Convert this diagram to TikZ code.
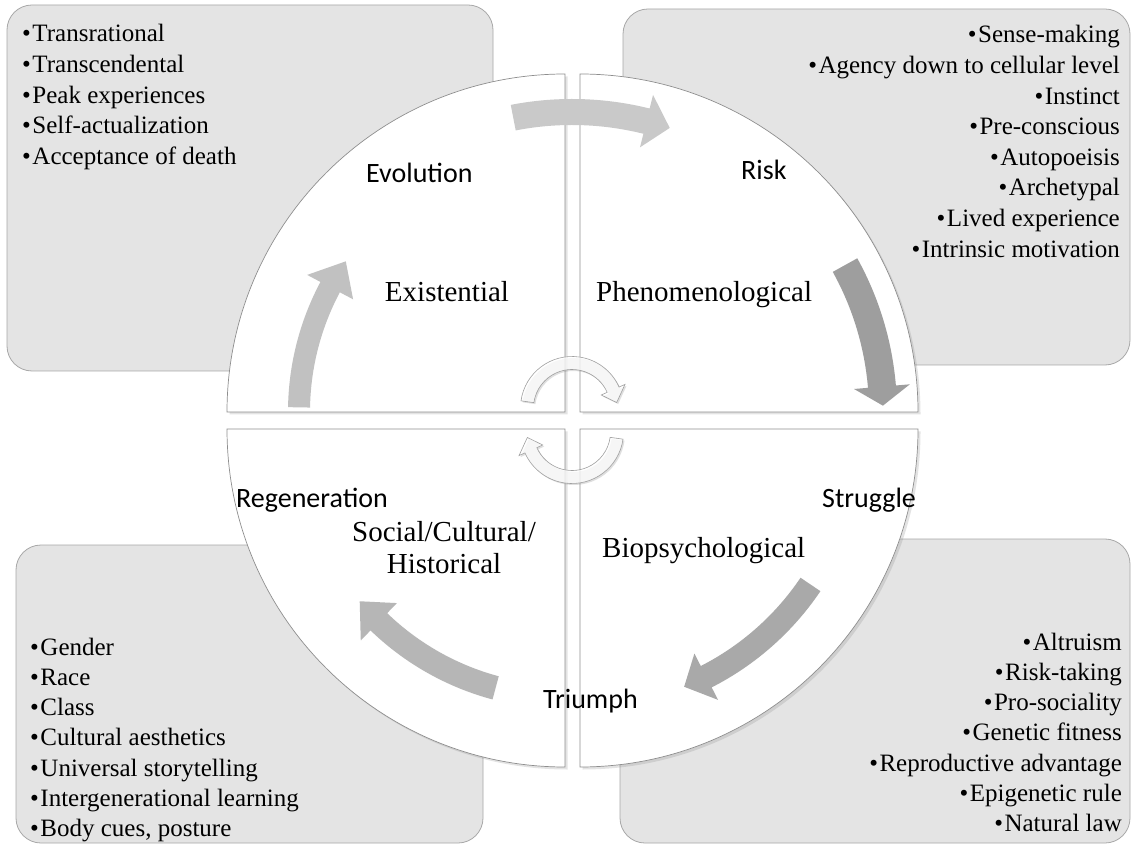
\documentclass[tikz,border=0pt]{standalone}
\usepackage{fontspec}
\setmainfont{Liberation Serif}
\newfontfamily\lblfont{Carlito}
\usetikzlibrary{calc,shadows}
\definecolor{boxfill}{HTML}{E4E4E4}
\definecolor{boxline}{HTML}{A8A8A8}
\definecolor{quadline}{HTML}{8E8E8E}
\definecolor{arA}{HTML}{C9C9C9}
\definecolor{arB}{HTML}{9E9E9E}
\definecolor{arC}{HTML}{A9A9A9}
\definecolor{arD}{HTML}{B6B6B6}
\definecolor{arE}{HTML}{C1C1C1}
\tikzset{
  infobox/.style={fill=boxfill, draw=boxline, line width=0.8pt, rounded corners=25pt},
  quad/.style={fill=white, draw=quadline, line width=0.7pt,
    drop shadow={opacity=0.22, shadow xshift=2.5pt, shadow yshift=-2.5pt}},
  item/.style={font=\fontsize{25}{30}\selectfont, inner sep=0pt},
  seg/.style={font=\fontsize{29}{34}\selectfont, inner sep=0pt},
  stage/.style={font=\lblfont\fontsize{28}{32}\selectfont, inner sep=0pt},
  cyc/.style={fill=white, fill opacity=0.75, draw=gray!75, line width=0.6pt,
    drop shadow={opacity=0.25, shadow xshift=1.5pt, shadow yshift=-1.5pt}},
}
% #1 centre, #2 radius, #3 start angle, #4 head base angle, #5 tip angle,
% #6 half shaft width, #7 half head width, #8 style
\newcommand\cyclearrow[8]{%
  \path[#8] ($(#1)+(#3:{#2+#6})$) arc[start angle=#3, end angle=#4, radius={#2+#6}]
    -- ($(#1)+(#4:{#2+#7})$) -- ($(#1)+(#5:#2)$) -- ($(#1)+(#4:{#2-#7})$)
    -- ($(#1)+(#4:{#2-#6})$) arc[start angle=#4, end angle=#3, radius={#2-#6}] -- cycle;}
\begin{document}
\begin{tikzpicture}[x=1pt,y=1pt]
\useasboundingbox (0,0) rectangle (1131,844);
\fill[white] (0,0) rectangle (1131,844);

% information boxes
\draw[infobox] (7,473) rectangle (493,839);
\draw[infobox] (623,479) rectangle (1130,835);
\draw[infobox] (16,1) rectangle (483,299);
\draw[infobox] (620,1) rectangle (1130,305);

% centres
\coordinate (cTL) at (565,432);
\coordinate (cTR) at (580,432);
\coordinate (cBL) at (565,415);
\coordinate (cBR) at (580,415);
\coordinate (cAll) at (572,424);
\coordinate (cUp) at (572,436);
\coordinate (cDn) at (572,412);

% quadrants
\path[quad] (cTL) -- ++(-338,0) arc[start angle=180, end angle=90, radius=338] -- cycle;
\path[quad] (cTR) -- ++(0,338) arc[start angle=90, end angle=0, radius=338] -- cycle;
\path[quad] (cBL) -- ++(0,-338) arc[start angle=270, end angle=180, radius=338] -- cycle;
\path[quad] (cBR) -- ++(338,0) arc[start angle=0, end angle=-90, radius=338] -- cycle;

% cycle arrows
\cyclearrow{cTL}{266}{179}{152}{145.5}{11}{26}{fill=arE}
\cyclearrow{cAll}{308}{101}{76}{71.5}{13}{27}{fill=arA}
\cyclearrow{cTR}{303}{29}{4.8}{1.2}{14}{28}{fill=arB}
\cyclearrow{cBR}{278}{-34}{-63}{-68}{12}{26}{fill=arC}
\cyclearrow{cBL}{268}{255}{226}{220}{12}{26}{fill=arD}

% centre arrows
\cyclearrow{cUp}{45}{172}{24}{7}{6.5}{13}{cyc}
\cyclearrow{cDn}{45}{352}{204}{187}{6.5}{13}{cyc}

% segment labels
\node[seg, anchor=base] (existential) at (447,542) {Existential};
\node[seg, anchor=base west] (phenom) at (596,542) {Phenomenological};
\node[seg, anchor=base west] (biopsy) at (602,287) {Biopsychological};
\node[seg, anchor=base] (social) at (444,303) {Social/Cultural/};
\node[seg, anchor=base] (historical) at (444,271) {Historical};

% stage labels
\node[stage, anchor=base west] (evolution) at (366,661) {Evolution};
\node[stage, anchor=base west] (risk) at (741,664) {Risk};
\node[stage, anchor=base west] (struggle) at (822,337) {Struggle};
\node[stage, anchor=base west] (regen) at (236,337) {Regeneration};
\node[stage, anchor=base west] (triumph) at (543,136) {Triumph};

% box texts
\foreach \t [count=\i from 0] in {Transrational, Transcendental, Peak experiences,
  Self-actualization, Acceptance of death}
  \node[item, anchor=base west] (tl\i) at (22,{802-30.6*\i}) {•\kern1.5pt\t};
\foreach \t [count=\i from 0] in {Sense-making, Agency down to cellular level, Instinct,
  Pre-conscious, Autopoeisis, Archetypal, Lived experience, Intrinsic motivation}
  \node[item, anchor=base east] (tr\i) at (1120,{801-30.6*\i}) {•\kern1.5pt\t};
\foreach \t [count=\i from 0] in {Gender, Race, Class, Cultural aesthetics,
  Universal storytelling, Intergenerational learning, {Body cues, posture}}
  \node[item, anchor=base west] (bl\i) at (30,{189-30.3*\i}) {•\kern1.5pt\t};
\foreach \t [count=\i from 0] in {Altruism, Risk-taking, Pro-sociality, Genetic fitness,
  Reproductive advantage, Epigenetic rule, Natural law}
  \node[item, anchor=base east] (br\i) at (1122,{194-30.3*\i}) {•\kern1.5pt\t};
\end{tikzpicture}
\end{document}
